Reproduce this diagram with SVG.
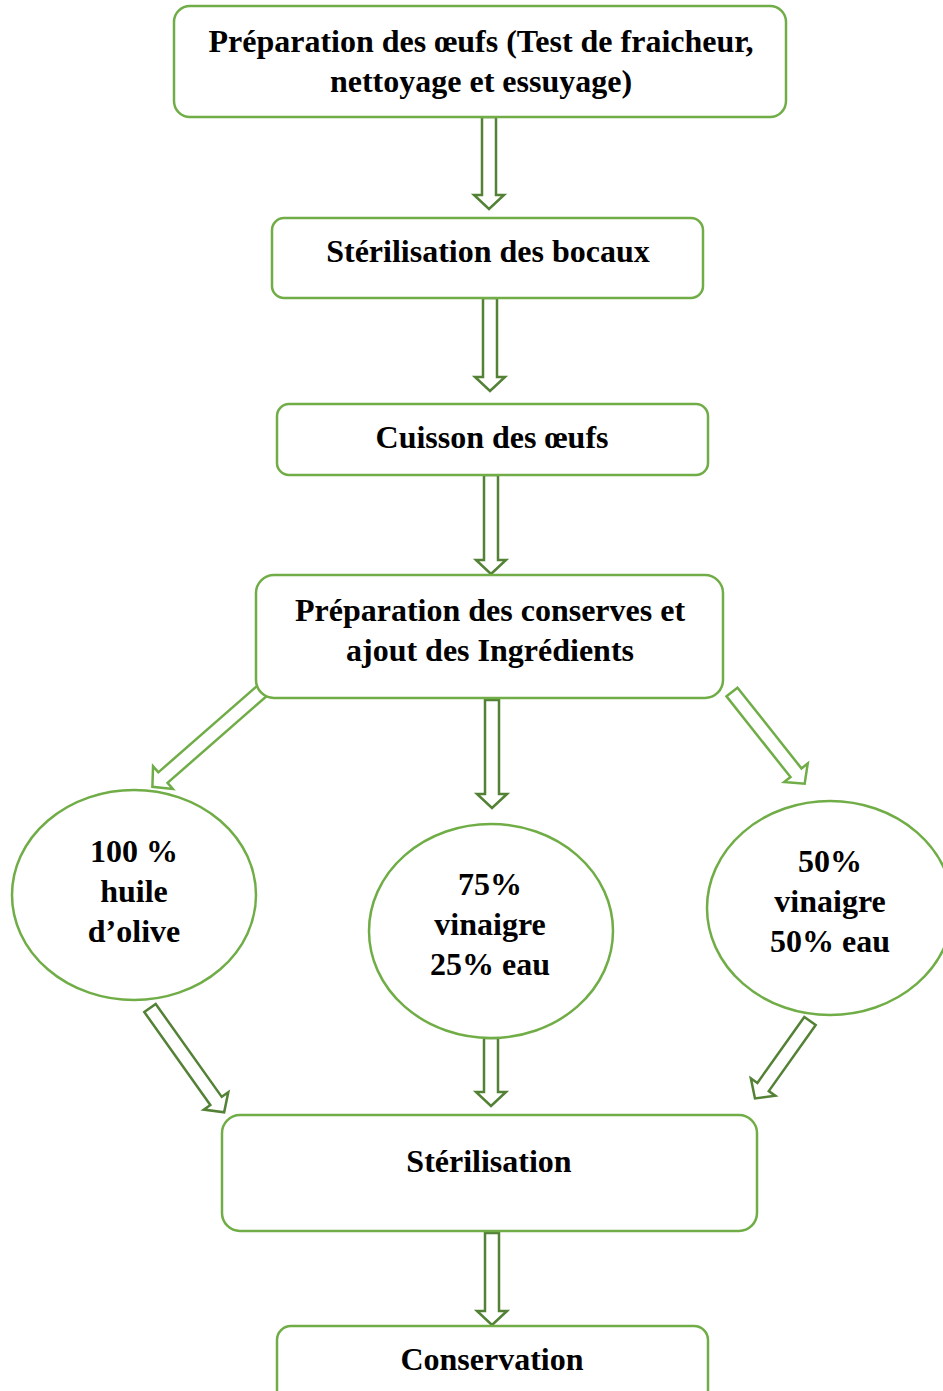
<svg xmlns="http://www.w3.org/2000/svg" width="943" height="1391" viewBox="0 0 943 1391">
<style>
.box{fill:#fff;stroke:#70AD47;stroke-width:2.5}
.t{font-family:"Liberation Serif","Times New Roman",serif;font-weight:bold;font-size:32px;fill:#000;text-anchor:middle}
.ad{fill:#fff;stroke:#538135;stroke-width:2.5;stroke-linejoin:miter}
.al{fill:#fff;stroke:#70AD47;stroke-width:2.5;stroke-linejoin:miter}
</style>
<rect width="943" height="1391" fill="#fff"/>
<g id="connectors">
<path class="ad" d="M482,117 H496 V195 H504 L489,209 L474,195 H482 Z"/>
<path class="ad" d="M483,298 H497 V377 H505 L490,391 L475,377 H483 Z"/>
<path class="ad" d="M484,475 H498 V560 H506 L491,574 L476,560 H484 Z"/>
<path class="ad" d="M485,700 H499 V794 H507 L492,808 L477,794 H485 Z"/>
<path class="al" transform="translate(263,690) rotate(48.8)" d="M-7,0 H7 V133 H15 L0,147 L-15,133 H-7 Z"/>
<path class="al" transform="translate(732,692) rotate(-38.4)" d="M-7,0 H7 V103 H15 L0,117 L-15,103 H-7 Z"/>
<path class="ad" transform="translate(150,1008) rotate(-35.4)" d="M-7,0 H7 V114 H15 L0,128 L-15,114 H-7 Z"/>
<path class="ad" d="M484,1038 H498 V1092 H506 L491,1106 L476,1092 H484 Z"/>
<path class="ad" transform="translate(810,1021) rotate(35.4)" d="M-7,0 H7 V81 H15 L0,95 L-15,81 H-7 Z"/>
<path class="ad" d="M485,1233 H499 V1311 H507 L492,1325 L477,1311 H485 Z"/>
</g>
<g id="n1"><rect class="box" x="174" y="6" width="612" height="111" rx="16"/>
<text class="t" x="481" y="52">Préparation des œufs (Test de fraicheur,</text>
<text class="t" x="481" y="92">nettoyage et essuyage)</text></g>
<g id="n2"><rect class="box" x="272" y="218" width="431" height="80" rx="12"/>
<text class="t" x="488" y="262">Stérilisation des bocaux</text></g>
<g id="n3"><rect class="box" x="277" y="404" width="431" height="71" rx="12"/>
<text class="t" x="492" y="448">Cuisson des œufs</text></g>
<g id="n4"><rect class="box" x="256" y="575" width="467" height="123" rx="18"/>
<text class="t" x="490" y="621">Préparation des conserves et</text>
<text class="t" x="490" y="661">ajout des Ingrédients</text></g>
<g id="n5"><ellipse class="box" cx="134" cy="895" rx="122" ry="105"/>
<text class="t" x="134" y="862">100 %</text>
<text class="t" x="134" y="902">huile</text>
<text class="t" x="134" y="942">d’olive</text></g>
<g id="n6"><ellipse class="box" cx="491" cy="931" rx="122" ry="107"/>
<text class="t" x="490" y="895">75%</text>
<text class="t" x="490" y="935">vinaigre</text>
<text class="t" x="490" y="975">25% eau</text></g>
<g id="n7"><ellipse class="box" cx="830" cy="908" rx="123" ry="107"/>
<text class="t" x="830" y="872">50%</text>
<text class="t" x="830" y="912">vinaigre</text>
<text class="t" x="830" y="952">50% eau</text></g>
<g id="n8"><rect class="box" x="222" y="1115" width="535" height="116" rx="18"/>
<text class="t" x="489" y="1172">Stérilisation</text></g>
<g id="n9"><rect class="box" x="277" y="1326" width="431" height="80" rx="14"/>
<text class="t" x="492" y="1370">Conservation</text></g>
</svg>
